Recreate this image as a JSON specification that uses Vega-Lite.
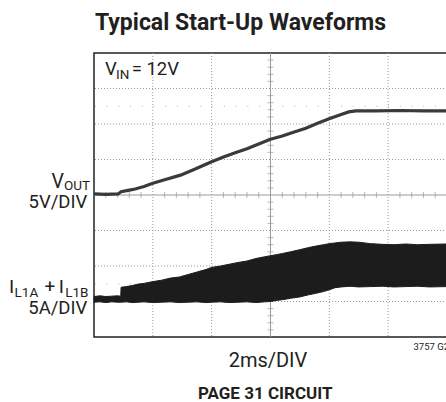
{
  "$schema": "https://vega.github.io/schema/vega-lite/v6.json",
  "width": 353,
  "height": 284,
  "autosize": "none",
  "padding": {"left": 94, "top": 53, "right": -1, "bottom": 65},
  "background": "white",
  "config": {"view": {"stroke": "#222", "strokeWidth": 1.5}},
  "datasets": {
    "gx": [{"g": 1}, {"g": 2}, {"g": 4}, {"g": 5}],
    "gy": [{"g": -3}, {"g": -2}, {"g": -1}, {"g": 1}, {"g": 2}, {"g": 3}],
    "one": [{}],
    "tx": [{"p":0.2},{"p":0.4},{"p":0.6},{"p":0.8},{"p":1.2},{"p":1.4},{"p":1.6},{"p":1.8},{"p":2.2},{"p":2.4},{"p":2.6},{"p":2.8},{"p":3.2},{"p":3.4},{"p":3.6},{"p":3.8},{"p":4.2},{"p":4.4},{"p":4.6},{"p":4.8},{"p":5.2},{"p":5.4},{"p":5.6},{"p":5.8}],
    "ty": [{"p":-3.8},{"p":-3.6},{"p":-3.4},{"p":-3.2},{"p":-2.8},{"p":-2.6},{"p":-2.4},{"p":-2.2},{"p":-1.8},{"p":-1.6},{"p":-1.4},{"p":-1.2},{"p":-0.8},{"p":-0.6},{"p":-0.4},{"p":-0.2},{"p":0.2},{"p":0.4},{"p":0.6},{"p":0.8},{"p":1.2},{"p":1.4},{"p":1.6},{"p":1.8},{"p":2.2},{"p":2.4},{"p":2.6},{"p":2.8},{"p":3.2},{"p":3.4},{"p":3.6},{"p":3.8}],
    "vout": [
      {"t": 0.0, "v": 0.03}, {"t": 0.2, "v": 0.02}, {"t": 0.41, "v": 0.03},
      {"t": 0.46, "v": 0.09}, {"t": 0.58, "v": 0.13}, {"t": 0.7, "v": 0.17},
      {"t": 0.85, "v": 0.24}, {"t": 1.0, "v": 0.33}, {"t": 1.2, "v": 0.43},
      {"t": 1.47, "v": 0.56}, {"t": 1.72, "v": 0.73}, {"t": 1.99, "v": 0.93},
      {"t": 2.2, "v": 1.07}, {"t": 2.4, "v": 1.19}, {"t": 2.6, "v": 1.3},
      {"t": 2.83, "v": 1.46}, {"t": 3.0, "v": 1.57}, {"t": 3.2, "v": 1.66},
      {"t": 3.39, "v": 1.77}, {"t": 3.6, "v": 1.88}, {"t": 3.8, "v": 2.02},
      {"t": 4.02, "v": 2.16}, {"t": 4.2, "v": 2.27}, {"t": 4.33, "v": 2.34},
      {"t": 4.45, "v": 2.37}, {"t": 4.8, "v": 2.37}, {"t": 5.2, "v": 2.38},
      {"t": 5.6, "v": 2.37}, {"t": 6.0, "v": 2.37}
    ],
    "iL": [
      {"t": 0.0, "hi": -2.86, "lo": -3.02}, {"t": 0.1, "hi": -2.84, "lo": -3.01},
      {"t": 0.2, "hi": -2.86, "lo": -3.03}, {"t": 0.3, "hi": -2.85, "lo": -3.01},
      {"t": 0.4, "hi": -2.84, "lo": -3.02}, {"t": 0.455, "hi": -2.85, "lo": -3.02},
      {"t": 0.46, "hi": -2.6, "lo": -3.02}, {"t": 0.55, "hi": -2.58, "lo": -3.01},
      {"t": 0.65, "hi": -2.55, "lo": -3.03}, {"t": 0.75, "hi": -2.51, "lo": -3.02},
      {"t": 0.85, "hi": -2.49, "lo": -3.01}, {"t": 1.0, "hi": -2.44, "lo": -3.03},
      {"t": 1.15, "hi": -2.4, "lo": -3.02}, {"t": 1.3, "hi": -2.34, "lo": -3.01},
      {"t": 1.45, "hi": -2.31, "lo": -3.03}, {"t": 1.6, "hi": -2.24, "lo": -3.02},
      {"t": 1.75, "hi": -2.17, "lo": -3.01}, {"t": 1.9, "hi": -2.1, "lo": -3.03},
      {"t": 2.0, "hi": -2.04, "lo": -3.02}, {"t": 2.15, "hi": -2.0, "lo": -3.01},
      {"t": 2.3, "hi": -1.95, "lo": -3.03}, {"t": 2.45, "hi": -1.9, "lo": -3.02},
      {"t": 2.6, "hi": -1.86, "lo": -3.01}, {"t": 2.75, "hi": -1.79, "lo": -3.03},
      {"t": 2.9, "hi": -1.74, "lo": -3.01}, {"t": 3.0, "hi": -1.71, "lo": -3.0},
      {"t": 3.1, "hi": -1.68, "lo": -2.97}, {"t": 3.2, "hi": -1.65, "lo": -2.95},
      {"t": 3.34, "hi": -1.6, "lo": -2.91}, {"t": 3.5, "hi": -1.54, "lo": -2.87},
      {"t": 3.65, "hi": -1.48, "lo": -2.81}, {"t": 3.77, "hi": -1.44, "lo": -2.77},
      {"t": 3.9, "hi": -1.4, "lo": -2.72}, {"t": 4.0, "hi": -1.37, "lo": -2.67},
      {"t": 4.1, "hi": -1.35, "lo": -2.61}, {"t": 4.2, "hi": -1.33, "lo": -2.59},
      {"t": 4.35, "hi": -1.32, "lo": -2.57}, {"t": 4.5, "hi": -1.33, "lo": -2.59},
      {"t": 4.7, "hi": -1.37, "lo": -2.58}, {"t": 4.9, "hi": -1.39, "lo": -2.57},
      {"t": 5.1, "hi": -1.4, "lo": -2.59}, {"t": 5.3, "hi": -1.38, "lo": -2.58},
      {"t": 5.5, "hi": -1.4, "lo": -2.57}, {"t": 5.7, "hi": -1.39, "lo": -2.59},
      {"t": 6.0, "hi": -1.38, "lo": -2.58}
    ]
  },
  "layer": [
    {
      "data": {"name": "gx"},
      "mark": {"type": "rule", "color": "#9a9a9a", "strokeWidth": 1, "strokeDash": [1, 2]},
      "encoding": {"x": {"field": "g", "type": "quantitative", "scale": {"domain": [0, 6], "nice": false, "zero": false}, "axis": null}}
    },
    {
      "data": {"name": "gy"},
      "mark": {"type": "rule", "color": "#9a9a9a", "strokeWidth": 1, "strokeDash": [1, 2]},
      "encoding": {"y": {"field": "g", "type": "quantitative", "scale": {"domain": [-4, 4], "nice": false, "zero": false}, "axis": null}}
    },
    {
      "data": {"name": "one"},
      "mark": {"type": "rule", "color": "#b0b0b0", "strokeWidth": 1.2, "strokeDash": [1, 10.73], "strokeDashOffset": -11},
      "encoding": {"y": {"datum": 2.5, "axis": null}}
    },
    {
      "data": {"name": "one"},
      "mark": {"type": "rule", "color": "#b0b0b0", "strokeWidth": 1.2, "strokeDash": [1, 10.73], "strokeDashOffset": -11},
      "encoding": {"y": {"datum": -2.5, "axis": null}}
    },
    {
      "data": {"name": "one"},
      "mark": {"type": "rule", "color": "#999", "strokeWidth": 1},
      "encoding": {"y": {"datum": 0, "axis": null}}
    },
    {
      "data": {"name": "one"},
      "mark": {"type": "rule", "color": "#999", "strokeWidth": 1},
      "encoding": {"x": {"datum": 3, "axis": null}}
    },
    {
      "data": {"name": "tx"},
      "mark": {"type": "tick", "orient": "vertical", "size": 6, "thickness": 1, "color": "#999"},
      "encoding": {"x": {"field": "p", "type": "quantitative", "axis": null}, "y": {"datum": 0, "axis": null}}
    },
    {
      "data": {"name": "ty"},
      "mark": {"type": "tick", "orient": "horizontal", "size": 6, "thickness": 1, "color": "#999"},
      "encoding": {"y": {"field": "p", "type": "quantitative", "axis": null}, "x": {"datum": 3, "axis": null}}
    },
    {
      "data": {"name": "iL"},
      "mark": {"type": "area", "color": "#1c1c1c", "opacity": 1, "stroke": "#1c1c1c", "strokeWidth": 1},
      "encoding": {
        "x": {"field": "t", "type": "quantitative", "axis": null},
        "y": {"field": "hi", "type": "quantitative", "axis": null},
        "y2": {"field": "lo"}
      }
    },
    {
      "data": {"name": "vout"},
      "mark": {"type": "line", "color": "#3a3a3a", "strokeWidth": 3.2},
      "encoding": {
        "x": {"field": "t", "type": "quantitative", "axis": null},
        "y": {"field": "v", "type": "quantitative", "axis": null}
      }
    },
    {
      "data": {"name": "one"},
      "mark": {"type": "text", "text": "Typical Start-Up Waveforms", "font": "Roboto", "fontWeight": "bold", "fontSize": 23, "align": "center", "baseline": "alphabetic", "color": "#231f20"},
      "encoding": {"x": {"datum": 2.49}, "y": {"datum": 4.66}}
    },
    {
      "data": {"name": "one"},
      "mark": {"type": "text", "text": "V", "font": "Roboto", "fontSize": 18.5, "align": "left", "baseline": "alphabetic", "color": "#231f20"},
      "encoding": {"x": {"datum": 0.187}, "y": {"datum": 3.37}}
    },
    {
      "data": {"name": "one"},
      "mark": {"type": "text", "text": "IN", "font": "Roboto", "fontSize": 13.5, "align": "left", "baseline": "alphabetic", "color": "#231f20"},
      "encoding": {"x": {"datum": 0.375}, "y": {"datum": 3.26}}
    },
    {
      "data": {"name": "one"},
      "mark": {"type": "text", "text": "= 12V", "font": "Roboto", "fontSize": 18.5, "align": "left", "baseline": "alphabetic", "color": "#231f20"},
      "encoding": {"x": {"datum": 0.64}, "y": {"datum": 3.37}}
    },
    {
      "data": {"name": "one"},
      "mark": {"type": "text", "text": "V", "font": "Roboto", "fontSize": 19.5, "align": "right", "baseline": "alphabetic", "color": "#231f20"},
      "encoding": {"x": {"datum": -0.511}, "y": {"datum": 0.2}}
    },
    {
      "data": {"name": "one"},
      "mark": {"type": "text", "text": "OUT", "font": "Roboto", "fontSize": 13.5, "align": "left", "baseline": "alphabetic", "color": "#231f20"},
      "encoding": {"x": {"datum": -0.511}, "y": {"datum": 0.14}}
    },
    {
      "data": {"name": "one"},
      "mark": {"type": "text", "text": "5V/DIV", "font": "Roboto", "fontSize": 18.5, "align": "right", "baseline": "alphabetic", "color": "#231f20"},
      "encoding": {"x": {"datum": -0.114}, "y": {"datum": -0.38}}
    },
    {
      "data": {"name": "one"},
      "mark": {"type": "text", "text": "I", "font": "Roboto", "fontSize": 19, "align": "left", "baseline": "alphabetic", "color": "#231f20"},
      "encoding": {"x": {"datum": -1.444}, "y": {"datum": -2.77}}
    },
    {
      "data": {"name": "one"},
      "mark": {"type": "text", "text": "L1A", "font": "Roboto", "fontSize": 13.5, "align": "left", "baseline": "alphabetic", "color": "#231f20"},
      "encoding": {"x": {"datum": -1.35}, "y": {"datum": -2.86}}
    },
    {
      "data": {"name": "one"},
      "mark": {"type": "text", "text": "+", "font": "Roboto", "fontSize": 19, "align": "center", "baseline": "alphabetic", "color": "#231f20"},
      "encoding": {"x": {"datum": -0.75}, "y": {"datum": -2.77}}
    },
    {
      "data": {"name": "one"},
      "mark": {"type": "text", "text": "I", "font": "Roboto", "fontSize": 19, "align": "left", "baseline": "alphabetic", "color": "#231f20"},
      "encoding": {"x": {"datum": -0.6}, "y": {"datum": -2.77}}
    },
    {
      "data": {"name": "one"},
      "mark": {"type": "text", "text": "L1B", "font": "Roboto", "fontSize": 13.5, "align": "left", "baseline": "alphabetic", "color": "#231f20"},
      "encoding": {"x": {"datum": -0.49}, "y": {"datum": -2.86}}
    },
    {
      "data": {"name": "one"},
      "mark": {"type": "text", "text": "5A/DIV", "font": "Roboto", "fontSize": 18.5, "align": "right", "baseline": "alphabetic", "color": "#231f20"},
      "encoding": {"x": {"datum": -0.114}, "y": {"datum": -3.35}}
    },
    {
      "data": {"name": "one"},
      "mark": {"type": "text", "text": "3757 G20", "font": "Roboto", "fontSize": 9.5, "align": "left", "baseline": "alphabetic", "color": "#231f20"},
      "encoding": {"x": {"datum": 5.43}, "y": {"datum": -4.36}}
    },
    {
      "data": {"name": "one"},
      "mark": {"type": "text", "text": "2ms/DIV", "font": "Roboto", "fontSize": 20, "align": "center", "baseline": "alphabetic", "color": "#231f20"},
      "encoding": {"x": {"datum": 2.957}, "y": {"datum": -4.84}}
    },
    {
      "data": {"name": "one"},
      "mark": {"type": "text", "text": "PAGE 31 CIRCUIT", "font": "Roboto", "fontWeight": "bold", "fontSize": 17, "align": "center", "baseline": "alphabetic", "color": "#231f20"},
      "encoding": {"x": {"datum": 2.91}, "y": {"datum": -5.75}}
    }
  ]
}
